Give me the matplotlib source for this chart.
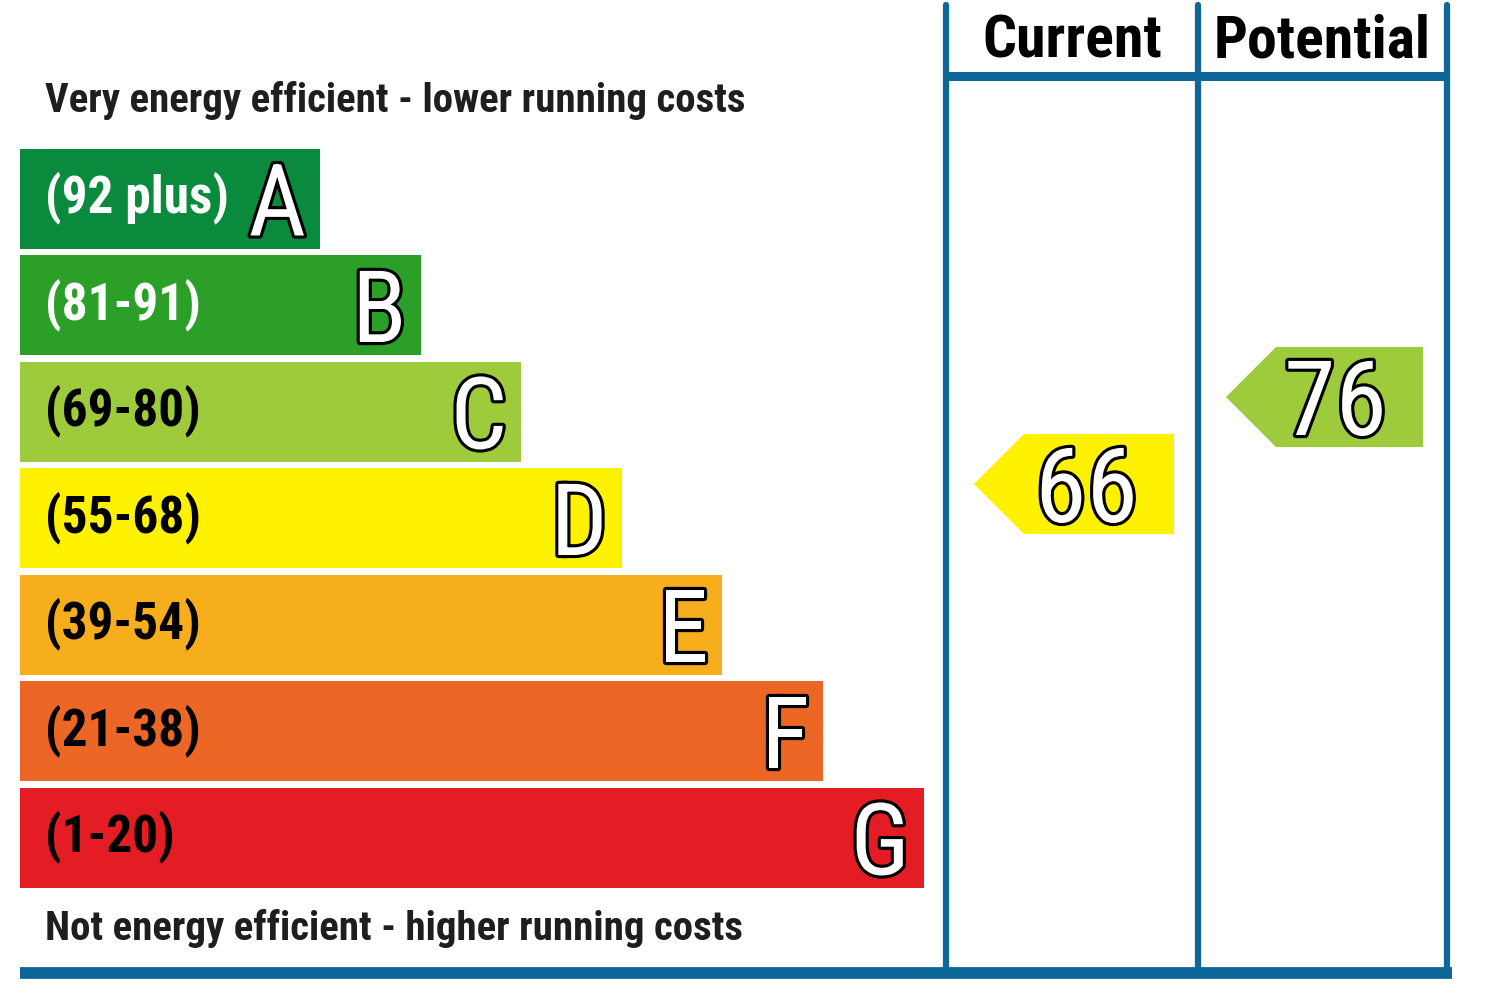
import matplotlib
matplotlib.use("Agg")
import matplotlib.pyplot as plt
from matplotlib.patches import Polygon
import matplotlib.patheffects as pe

# ---- data ----
bands = ["A", "B", "C", "D", "E", "F", "G"]
ranges = ["(92 plus)", "(81-91)", "(69-80)", "(55-68)", "(39-54)", "(21-38)", "(1-20)"]
band_colors = ["#0a8a3c", "#2c9f29", "#9dcb3c", "#fff200", "#f6ae1d", "#ec6725", "#e31d23"]
range_text_colors = ["white", "white", "black", "black", "black", "black", "black"]
column_titles = ["Current", "Potential"]
ratings = [66, 76]
rating_bands = ["D", "C"]
top_note = "Very energy efficient - lower running costs"
bottom_note = "Not energy efficient - higher running costs"

plt.rcParams["font.family"] = ["Roboto Condensed", "Liberation Sans", "DejaVu Sans"]

LINE = "#0d6899"

fig = plt.figure(figsize=(15, 10), dpi=100)
ax = fig.add_axes([0, 0, 1, 1])
ax.set_xlim(0, 1500)
ax.set_ylim(1000, 0)
ax.axis("off")

# bars
bar_left = 20
bar_h = 100
pitch = 106.5
y0 = 198.5
ys = [y0 + i * pitch for i in range(len(bands))]
widths = [300 + 100.6 * i for i in range(len(bands))]
ax.barh(ys, widths, left=bar_left, height=bar_h, color=band_colors, linewidth=0)

outline = [pe.withStroke(linewidth=4.5, foreground="black")]
for y, w, b, r, tc in zip(ys, widths, bands, ranges, range_text_colors):
    ax.text(45, y + 14, r, fontsize=37, fontweight="bold", color=tc, ha="left", va="baseline")
    ax.text(bar_left + w - 14, y + 37, b, fontsize=72, fontweight="normal", color="white",
            ha="right", va="baseline", path_effects=outline)

ax.text(45, 112, top_note, fontsize=29.5, fontweight="bold", color="#1e1e1e", ha="left", va="baseline")
ax.text(45, 940, bottom_note, fontsize=29.5, fontweight="bold", color="#1e1e1e", ha="left", va="baseline")

# frame
col_x = [946, 1198, 1447]
for x in col_x:
    ax.plot([x, x], [5, 975], color=LINE, lw=4.5, solid_capstyle="round")
ax.plot([col_x[0], col_x[-1]], [76, 76], color=LINE, lw=6.5, solid_capstyle="butt")
ax.plot([20, 1452], [973, 973], color=LINE, lw=8.5, solid_capstyle="butt")

for i, t in enumerate(column_titles):
    cx = (col_x[i] + col_x[i + 1]) / 2
    ax.text(cx, 57, t, fontsize=43, fontweight="bold", color="black", ha="center", va="baseline")

# rating arrows
def rating_y(r):
    return 484 + (66 - r) * 8.7

arrow_h = 100
for i, (r, b) in enumerate(zip(ratings, rating_bands)):
    left = col_x[i] + 28
    right = col_x[i + 1] - 24
    yc = rating_y(r)
    tip = 50
    poly = Polygon([(left, yc), (left + tip, yc - arrow_h / 2), (right, yc - arrow_h / 2),
                    (right, yc + arrow_h / 2), (left + tip, yc + arrow_h / 2)],
                   closed=True, facecolor=band_colors[bands.index(b)], edgecolor="none")
    ax.add_patch(poly)
    ax.text(right - 36, yc + 38, str(r), fontsize=75, color="white", ha="right", va="baseline",
            path_effects=outline)

fig.savefig("out.png", dpi=100, facecolor="white")
